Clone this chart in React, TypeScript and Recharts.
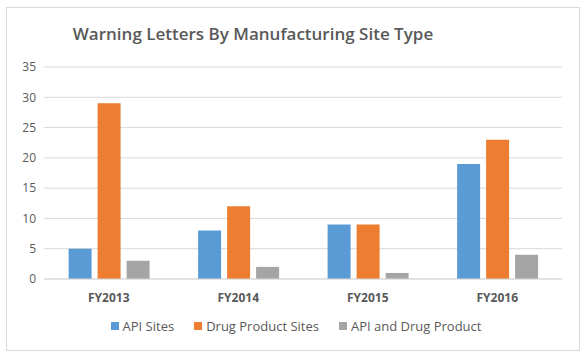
import { BarChart, Bar, XAxis, YAxis, CartesianGrid, Legend } from 'recharts';

const years = ['FY2013', 'FY2014', 'FY2015', 'FY2016'];
const apiSites = [5, 8, 9, 19];
const drugProductSites = [29, 12, 9, 23];
const apiAndDrugProduct = [3, 2, 1, 4];
const yTicks = [0, 5, 10, 15, 20, 25, 30, 35];

const data = years.map((year, i) => ({
  year,
  api: apiSites[i],
  drug: drugProductSites[i],
  both: apiAndDrugProduct[i],
}));

const series = [
  { key: 'api', name: 'API Sites', color: '#5B9BD5' },
  { key: 'drug', name: 'Drug Product Sites', color: '#ED7D31' },
  { key: 'both', name: 'API and Drug Product', color: '#A5A5A5' },
];

const font = '"Open Sans", "Noto Sans", sans-serif';

function LegendContent() {
  return (
    <div style={{ display: 'flex', justifyContent: 'center', gap: 20, fontFamily: font, fontSize: 13, color: '#595959', paddingLeft: 30 }}>
      {series.map((s) => (
        <span key={s.key} style={{ display: 'flex', alignItems: 'center' }}>
          <span style={{ width: 8, height: 8, background: s.color, marginRight: 4, display: 'inline-block' }} />
          {s.name}
        </span>
      ))}
    </div>
  );
}

export default function App() {
  return (
    <div style={{ position: 'fixed', left: 0, top: 0, width: 588, height: 360, background: '#fff' }}>
      <div style={{ position: 'absolute', left: 6, top: 7, width: 574, height: 344, border: '1px solid #d9d9d9', boxSizing: 'border-box' }} />
      <div style={{ position: 'absolute', left: 0, width: 506, top: 22, textAlign: 'center', fontFamily: font, fontSize: 17, color: '#595959', fontWeight: 600 }}>
        Warning Letters By Manufacturing Site Type
      </div>
      <div style={{ position: 'absolute', left: 0, top: 0 }}>
        <BarChart width={588} height={360} data={data} margin={{ top: 67, right: 26, bottom: 31, left: 0 }} barGap={6} barCategoryGap="19%">
          <CartesianGrid vertical={false} stroke="#d9d9d9" />
          <XAxis
            dataKey="year"
            height={30}
            tickLine={false}
            axisLine={{ stroke: '#d9d9d9' }}
            tick={{ fill: '#595959', fontSize: 12, fontWeight: 700, fontFamily: font }}
            tickMargin={8}
          />
          <YAxis
            width={44}
            domain={[0, 35]}
            ticks={yTicks}
            tickLine={false}
            axisLine={false}
            tick={{ fill: '#595959', fontSize: 12, fontFamily: font }}
          />
          {series.map((s) => (
            <Bar key={s.key} dataKey={s.key} name={s.name} fill={s.color} isAnimationActive={false} />
          ))}
          <Legend verticalAlign="bottom" content={<LegendContent />} wrapperStyle={{ top: 317, height: 20 }} />
        </BarChart>
      </div>
    </div>
  );
}
